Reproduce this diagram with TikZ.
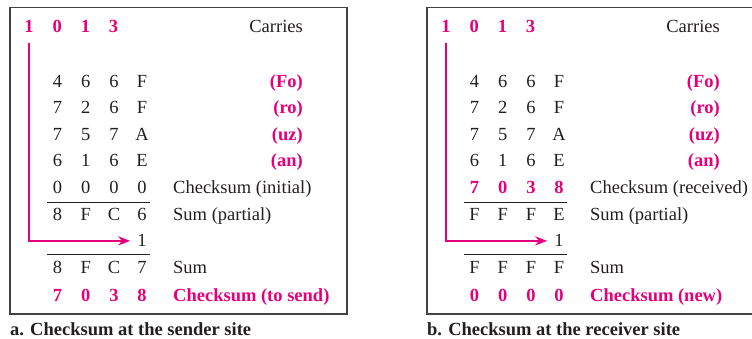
\documentclass[tikz,border=0pt]{standalone}
\usepackage{fontspec}
\setmainfont{Liberation Serif}
\usetikzlibrary{arrows.meta}
\definecolor{pinkc}{RGB}{228,0,124}
\definecolor{inkc}{RGB}{35,31,32}
% #1 prefix, #2 x of first column, #3 baseline y, #4-#7 digits, #8 style
\newcommand\drow[8]{%
  \node[dig,#8] (#1a) at (#2,#3) {#4};
  \node[dig,#8] (#1b) at (#2+28.2,#3) {#5};
  \node[dig,#8] (#1c) at (#2+56.5,#3) {#6};
  \node[dig,#8] (#1d) at (#2+84.5,#3) {#7};}
\begin{document}
\begin{tikzpicture}[x=1pt,y=-1pt,
  font=\fontsize{18.5}{22}\selectfont,
  dig/.style={inner sep=0pt, anchor=base, text=inkc},
  pk/.style={text=pinkc, font=\fontsize{18.5}{22}\selectfont\bfseries},
  plain/.style={},
  labr/.style={inner sep=0pt, anchor=base east, text=inkc},
  labl/.style={inner sep=0pt, anchor=base west, text=inkc},
  captxt/.style={inner sep=0pt, anchor=base west, text=inkc, font=\fontsize{18.5}{22}\selectfont\bfseries},
  boxline/.style={draw=inkc!85, line width=1.2pt},
  rule/.style={draw=inkc, line width=1pt},
  carry/.style={draw=pinkc, line width=2pt, -{Stealth[length=12pt,width=9pt]}}]
\useasboundingbox (0,0) rectangle (752,339);
\clip (0,0) rectangle (752,339);
% ---------------- left box ----------------
\draw[boxline] (10,7.5) rectangle (347,314);
\drow{Lc}{29}{33}{1}{0}{1}{3}{pk}
\node[labr] (Lcar) at (303,33) {Carries};
\drow{La}{57.5}{88}{4}{6}{6}{F}{plain}
\node[labr,pk] (Lfo) at (303,88) {(Fo)};
\drow{Lb}{57.5}{114}{7}{2}{6}{F}{plain}
\node[labr,pk] (Lro) at (303,114) {(ro)};
\drow{Ld}{57.5}{141}{7}{5}{7}{A}{plain}
\node[labr,pk] (Luz) at (303,141) {(uz)};
\drow{Le}{57.5}{167}{6}{1}{6}{E}{plain}
\node[labr,pk] (Lan) at (303,167) {(an)};
\drow{Li}{57.5}{194}{0}{0}{0}{0}{plain}
\node[labl] (Lini) at (173,194) {Checksum (initial)};
\draw[rule] (47,203) -- (150,203);
\drow{Lp}{57.5}{221}{8}{F}{C}{6}{plain}
\node[labl] (Lpar) at (173,221) {Sum (partial)};
\node[dig] (Lone) at (142,247) {1};
\draw[rule] (47,254) -- (150,254);
\drow{Ls}{57.5}{273}{8}{F}{C}{7}{plain}
\node[labl] (Lsum) at (173,273) {Sum};
\drow{Lt}{57.5}{301}{7}{0}{3}{8}{pk}
\node[labl,pk] (Lsend) at (173,301) {Checksum (to send)};
\draw[carry] ([yshift=-10pt]Lca.base) |- ([xshift=-7pt]Lone.west);
\node[captxt] (Lcap) at (10,335) {a. Checksum at the sender site};
% ---------------- right box ----------------
\draw[boxline] (427,7.5) rectangle (770,314);
\drow{Rc}{446}{33}{1}{0}{1}{3}{pk}
\node[labr] (Rcar) at (720,33) {Carries};
\drow{Ra}{474.5}{88}{4}{6}{6}{F}{plain}
\node[labr,pk] (Rfo) at (720,88) {(Fo)};
\drow{Rb}{474.5}{114}{7}{2}{6}{F}{plain}
\node[labr,pk] (Rro) at (720,114) {(ro)};
\drow{Rd}{474.5}{141}{7}{5}{7}{A}{plain}
\node[labr,pk] (Ruz) at (720,141) {(uz)};
\drow{Re}{474.5}{167}{6}{1}{6}{E}{plain}
\node[labr,pk] (Ran) at (720,167) {(an)};
\drow{Ri}{474.5}{194}{7}{0}{3}{8}{pk}
\node[labl] (Rrec) at (590,194) {Checksum (received)};
\draw[rule] (464,203) -- (567,203);
\drow{Rp}{474.5}{221}{F}{F}{F}{E}{plain}
\node[labl] (Rpar) at (590,221) {Sum (partial)};
\node[dig] (Rone) at (559,247) {1};
\draw[rule] (464,254) -- (567,254);
\drow{Rs}{474.5}{273}{F}{F}{F}{F}{plain}
\node[labl] (Rsum) at (590,273) {Sum};
\drow{Rt}{474.5}{301}{0}{0}{0}{0}{pk}
\node[labl,pk] (Rnew) at (590,301) {Checksum (new)};
\draw[carry] ([yshift=-10pt]Rca.base) |- ([xshift=-7pt]Rone.west);
\node[captxt] (Rcap) at (427,335) {b. Checksum at the receiver site};
\end{tikzpicture}
\end{document}
